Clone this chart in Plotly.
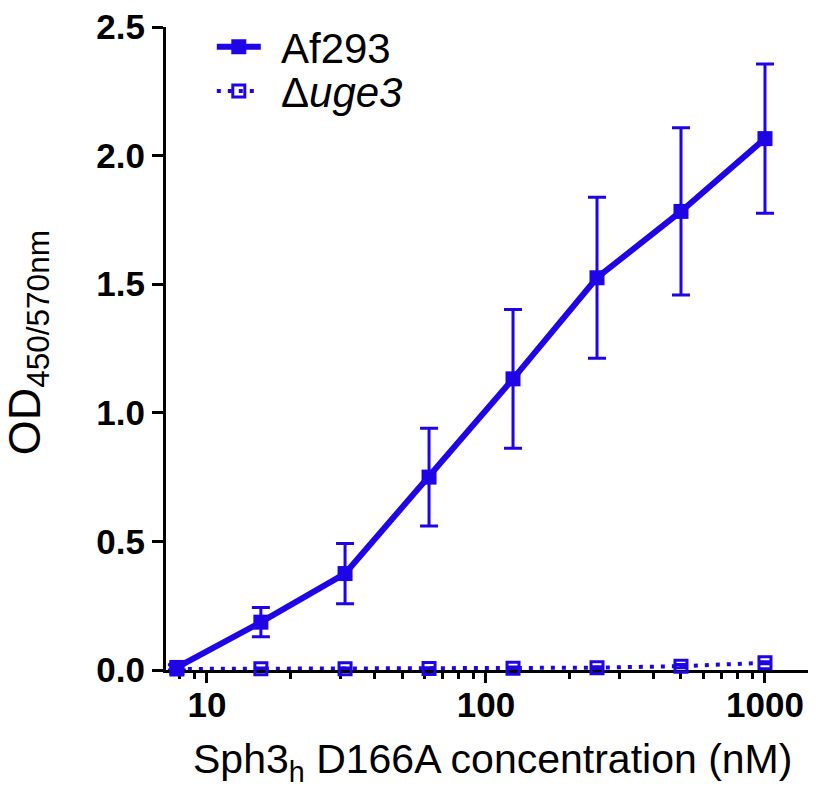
import numpy as np
import plotly.graph_objects as go

# Data
conc = [7.8, 15.6, 31.25, 62.5, 125, 250, 500, 1000]
af293_mean = [0.01, 0.186, 0.375, 0.750, 1.132, 1.525, 1.783, 2.066]
af293_sd = [0.01, 0.057, 0.117, 0.190, 0.270, 0.313, 0.325, 0.290]
uge3_mean = [0.004, 0.005, 0.005, 0.006, 0.007, 0.009, 0.015, 0.028]
uge3_sd = [0.002, 0.003, 0.003, 0.003, 0.005, 0.004, 0.006, 0.004]

x_major = [10, 100, 1000]
x_minor = [8, 9, 20, 30, 40, 50, 60, 70, 80, 90, 200, 300, 400, 500, 600, 700, 800, 900]
y_ticks = [0.0, 0.5, 1.0, 1.5, 2.0, 2.5]

BLUE = "#1f05e6"
FONT = "Liberation Sans, Arial, sans-serif"

fig = go.Figure()

fig.add_trace(go.Scatter(
    x=conc, y=uge3_mean, name="\u00a0\u200aΔ<i>uge3</i>", mode="lines+markers",
    line=dict(color=BLUE, width=4, dash="4px,7px"),
    marker=dict(symbol="square-open", size=12, color=BLUE, line=dict(color=BLUE, width=3)),
    error_y=dict(type="data", array=uge3_sd, color=BLUE, thickness=3, width=6),
    cliponaxis=False, legend="legend2",
))

fig.add_trace(go.Scatter(
    x=conc, y=af293_mean, name="\u00a0\u200aAf293", mode="lines+markers",
    line=dict(color=BLUE, width=6),
    marker=dict(symbol="square", size=15, color=BLUE),
    error_y=dict(type="data", array=af293_sd, color=BLUE, thickness=3, width=9),
    cliponaxis=False, legend="legend",
))

leg_common = dict(
    xanchor="left", yanchor="middle",
    font=dict(size=42, family=FONT, color="black"),
    bgcolor="rgba(0,0,0,0)", itemwidth=44,
)

# page body has an 8px default margin; figure sized to fit the window
fig.update_layout(
    width=808, height=799,
    margin=dict(l=158, r=5, t=14, b=137),
    paper_bgcolor="white", plot_bgcolor="white",
    font=dict(family=FONT, color="black"),
    showlegend=True,
    legend=dict(x=0.071, y=0.969, **leg_common),
    legend2=dict(x=0.071, y=0.900, **leg_common),
    xaxis=dict(
        type="log", range=[np.log10(7.13), np.log10(1462)],
        automargin=False, ticklabeloverflow="allow",
        showline=True, linecolor="black", linewidth=3,
        ticks="outside", ticklen=10, tickwidth=3, tickcolor="black",
        tickmode="array", tickvals=x_major, ticktext=[str(v) for v in x_major],
        tickfont=dict(size=35, family=FONT, color="black", weight="bold"),
        ticklabelstandoff=-8,
        minor=dict(tickmode="array", tickvals=x_minor, ticks="outside", ticklen=6,
                   tickwidth=3, tickcolor="black", showgrid=False),
        showgrid=False, zeroline=False, layer="below traces",
    ),
    yaxis=dict(
        range=[0, 2.5],
        automargin=False, ticklabeloverflow="allow",
        showline=True, linecolor="black", linewidth=3,
        ticks="outside", ticklen=11, tickwidth=3, tickcolor="black",
        tickmode="array", tickvals=y_ticks, ticktext=[f"{v:.1f}" for v in y_ticks],
        tickfont=dict(size=35, family=FONT, color="black", weight="bold"),
        ticklabelstandoff=0,
        showgrid=False, zeroline=False, layer="below traces",
    ),
    annotations=[
        dict(
            text="OD<sub>450/570nm</sub>", textangle=-90,
            xref="paper", yref="paper", x=-0.262, y=0.509,
            xanchor="left", yanchor="middle", showarrow=False,
            font=dict(size=45, family=FONT, color="black"),
        ),
        dict(
            text="Sph3<sub>h</sub> D166A concentration (nM)",
            xref="paper", yref="paper", x=0.506, y=-0.1435,
            xanchor="center", yanchor="middle", showarrow=False,
            font=dict(size=41, family=FONT, color="black"),
        ),
    ],
)

fig.write_html("out.html")
